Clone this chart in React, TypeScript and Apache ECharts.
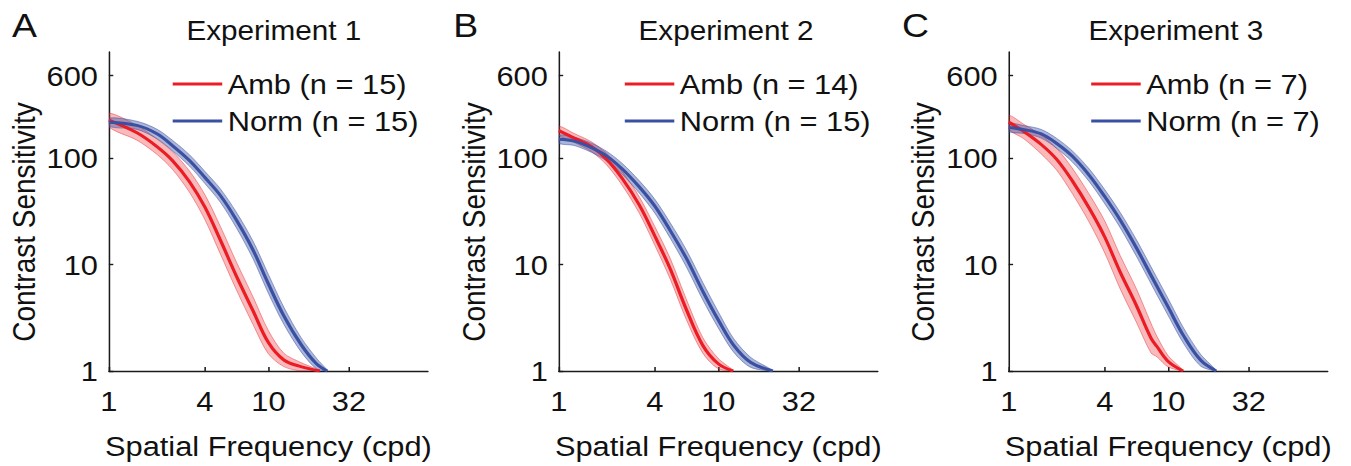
import React, { useEffect, useRef } from "react";
import * as echarts from "echarts";

// ---------- data ----------
const panelLetters = ["A", "B", "C"];
const panelTitles = ["Experiment 1", "Experiment 2", "Experiment 3"];
const ambNames = ["Amb (n = 15)", "Amb (n = 14)", "Amb (n = 7)"];
const normNames = ["Norm (n = 15)", "Norm (n = 15)", "Norm (n = 7)"];

const xTickValues = [1, 4, 10, 32];
const yTickValues = [1, 10, 100, 600];
const xRange = [1, 100];
const yRange = [1, 1000];

const xAxisName = "Spatial Frequency (cpd)";
const yAxisName = "Contrast Sensitivity";

// Panel A
const ambA_f = [1, 1.5, 2, 2.5, 3.2, 4, 5, 6.3, 8, 10, 12.5, 16, 21];
const ambA_mean = [229, 174, 129, 95.5, 60.3, 34.7, 17, 7.8, 3.7, 1.85, 1.27, 1.1, 1.0];
const ambA_lo = [198, 148, 109, 78.9, 47.9, 26.5, 12.6, 5.8, 2.75, 1.45, 1.1, 1.0, 1.0];
const ambA_hi = [265, 204, 152, 116, 76, 45.4, 22.9, 10.6, 5.0, 2.4, 1.47, 1.2, 1.0];

const normA_f = [1, 1.5, 2, 2.5, 3.2, 4, 5, 6.3, 8, 10, 12.5, 16, 20, 23.4];
const normA_mean = [219, 204, 170, 132, 95.5, 66, 44.7, 26.3, 13.8, 6.6, 3.3, 1.78, 1.17, 1.0];
const normA_lo = [200, 187, 153, 118, 84.5, 57.9, 38.6, 22.2, 11.4, 5.38, 2.75, 1.52, 1.05, 1.0];
const normA_hi = [239, 223, 188, 148, 108, 75.3, 51.6, 31.1, 16.7, 8.1, 3.98, 2.07, 1.32, 1.0];

// Panel B
const ambB_f = [1, 1.25, 1.6, 2, 2.5, 3.2, 4, 5, 6.3, 8, 10, 12.4];
const ambB_mean = [182, 155, 129, 97.7, 64.6, 36.3, 18.6, 9.1, 3.8, 1.74, 1.17, 1.0];
const ambB_lo = [166, 141, 116, 86.3, 55.6, 30.4, 15.2, 7.3, 3.05, 1.47, 1.05, 1.0];
const ambB_hi = [200, 171, 143, 111, 75, 43.4, 22.8, 11.4, 4.74, 2.06, 1.31, 1.0];

const normB_f = [1, 1.25, 1.6, 2, 2.5, 3.2, 4, 5, 6.3, 8, 10, 12.5, 16, 22];
const normB_mean = [151, 145, 126, 105, 79.4, 53.7, 35.5, 20.9, 11.5, 5.62, 3.02, 1.74, 1.2, 1.0];
const normB_lo = [139, 132, 114, 94.2, 70.5, 47, 30.5, 17.7, 9.55, 4.66, 2.54, 1.5, 1.08, 1.0];
const normB_hi = [165, 158, 139, 116, 89.5, 61.4, 41.2, 24.7, 13.8, 6.79, 3.6, 2.01, 1.34, 1.0];

// Panel C
const ambC_f = [1, 1.25, 1.6, 2, 2.5, 3.2, 4, 5, 6.3, 7.8, 8.5, 10, 12.4];
const ambC_mean = [219, 178, 135, 97.7, 61.7, 33.9, 18.2, 8.5, 4.17, 2.04, 1.7, 1.23, 1.0];
const ambC_lo = [189, 152, 110, 77.3, 46.9, 25, 12.9, 5.92, 2.9, 1.48, 1.36, 1.09, 1.0];
const ambC_hi = [253, 208, 165, 124, 81.1, 45.9, 25.8, 12.2, 5.98, 2.81, 2.12, 1.39, 1.0];

const normC_f = [1, 1.25, 1.6, 2, 2.5, 3.2, 4, 5, 6.3, 8, 10, 12.5, 16, 20];
const normC_mean = [195, 186, 170, 138, 105, 69.2, 43.7, 26.3, 14.5, 7.41, 3.98, 2.14, 1.26, 1.0];
const normC_lo = [179, 171, 155, 124, 92.7, 60.3, 37.5, 22.3, 12.1, 6.17, 3.32, 1.81, 1.11, 1.0];
const normC_hi = [213, 203, 187, 154, 118, 79.4, 50.8, 31, 17.3, 8.91, 4.78, 2.53, 1.43, 1.0];

const panelsData = [
  { amb: [ambA_f, ambA_mean, ambA_lo, ambA_hi], norm: [normA_f, normA_mean, normA_lo, normA_hi] },
  { amb: [ambB_f, ambB_mean, ambB_lo, ambB_hi], norm: [normB_f, normB_mean, normB_lo, normB_hi] },
  { amb: [ambC_f, ambC_mean, ambC_lo, ambC_hi], norm: [normC_f, normC_mean, normC_lo, normC_hi] },
];

// ---------- layout / style ----------
const STRETCH = 1.1;
const INNER_W = 1228;
const H = 466;
const FONT = "'Liberation Sans', Arial, Helvetica, sans-serif";
const TEXT = "#111111";
const AXIS = "#1a1a1a";
const RED = "#ec1c24";
const BLUE = "#3a50a3";
const RED_FILL = "rgba(236,40,48,0.32)";
const RED_EDGE = "rgba(236,40,48,0.55)";
const BLUE_FILL = "rgba(58,80,163,0.42)";
const BLUE_EDGE = "rgba(58,80,163,0.6)";

const gridLeft = [99, 508, 917];
const gridTop = 52;
const gridW = 290;
const gridH = 319;
const legendLeft = [152, 563, 987];
const letterX = [11, 412, 820];
const titleX = [249, 660, 1069];
const yNameX = [21.5, 430.5, 839.5];

const lg = (v: number) => Math.log10(v);

function bandSeries(i: number, key: string, f: number[], lo: number[], hi: number[], fill: string, edge: string) {
  const data = f.map((x, k) => [lg(x), lg(lo[k]), lg(hi[k])]);
  return {
    type: "custom",
    name: `${key}-${i}-band`,
    xAxisIndex: i,
    yAxisIndex: i,
    silent: true,
    clip: true,
    encode: { x: 0, y: [1, 2] },
    data,
    renderItem: (params: any, api: any) => {
      if (params.dataIndex !== 0) return null;
      const upper = data.map((d) => api.coord([d[0], d[2]]));
      const lowerPts = data.map((d) => api.coord([d[0], d[1]]));
      const n = data.length;
      const lower: number[][] = [];
      for (let k = n - 1; k >= 0; k--) {
        if (k === n - 1 && Math.abs(data[k][1] - data[k][2]) < 1e-9) continue;
        lower.push(lowerPts[k]);
      }
      const cs = params.coordSys;
      return {
        type: "polygon",
        shape: {
          points: upper.concat(lower),
          smooth: 0.3,
          smoothConstraint: [
            [cs.x, cs.y],
            [cs.x + cs.width, cs.y + cs.height],
          ],
        },
        style: { fill, stroke: edge, lineWidth: 0.8 },
      };
    },
  };
}

function meanSeries(i: number, name: string, f: number[], m: number[], color: string) {
  return {
    type: "line",
    name,
    xAxisIndex: i,
    yAxisIndex: i,
    smooth: 0.35,
    symbol: "none",
    showSymbol: false,
    silent: true,
    lineStyle: { width: 3, color },
    itemStyle: { color },
    data: f.map((x, k) => [lg(x), lg(m[k])]),
  };
}

function buildOption() {
  const textStyle = { fontFamily: FONT, fontSize: 28, color: TEXT };
  const grid: any[] = [];
  const xAxis: any[] = [];
  const yAxis: any[] = [];
  const legend: any[] = [];
  const series: any[] = [];
  const graphic: any[] = [];

  panelsData.forEach((p, i) => {
    grid.push({ left: gridLeft[i], top: gridTop, width: gridW, height: gridH, containLabel: false });
    xAxis.push({
      type: "value",
      gridIndex: i,
      min: lg(xRange[0]),
      max: lg(xRange[1]),
      axisLine: { show: true, onZero: false, lineStyle: { color: AXIS, width: 1.4 } },
      axisTick: {
        show: true,
        inside: true,
        length: 4,
        customValues: xTickValues.map(lg),
        lineStyle: { color: AXIS, width: 1.4 },
      },
      axisLabel: {
        show: true,
        customValues: xTickValues.map(lg),
        formatter: (v: number) => String(Math.round(Math.pow(10, v))),
        margin: 16,
        ...textStyle,
      },
      splitLine: { show: false },
      name: xAxisName,
      nameLocation: "middle",
      nameGap: 61,
      nameTextStyle: { ...textStyle },
    });
    yAxis.push({
      type: "value",
      gridIndex: i,
      min: lg(yRange[0]),
      max: lg(yRange[1]),
      axisLine: { show: true, onZero: false, lineStyle: { color: AXIS, width: 1.4 } },
      axisTick: {
        show: true,
        inside: true,
        length: 4,
        customValues: yTickValues.map(lg),
        lineStyle: { color: AXIS, width: 1.4 },
      },
      axisLabel: {
        show: true,
        customValues: yTickValues.map(lg),
        formatter: (v: number) => String(Math.round(Math.pow(10, v))),
        margin: 10,
        ...textStyle,
      },
      splitLine: { show: false },
    });
    legend.push({
      orient: "vertical",
      left: legendLeft[i],
      top: 65,
      itemWidth: 45,
      itemHeight: 3,
      itemGap: 9,
      icon: "rect",
      selectedMode: false,
      textStyle: { ...textStyle },
      data: [ambNames[i], normNames[i]],
    });

    const [af, am, alo, ahi] = p.amb;
    const [nf, nm, nlo, nhi] = p.norm;
    series.push(bandSeries(i, "amb", af, alo, ahi, RED_FILL, RED_EDGE));
    series.push(bandSeries(i, "norm", nf, nlo, nhi, BLUE_FILL, BLUE_EDGE));
    series.push(meanSeries(i, ambNames[i], af, am, RED));
    series.push(meanSeries(i, normNames[i], nf, nm, BLUE));

    graphic.push({
      type: "text",
      x: letterX[i],
      y: 26,
      style: { text: panelLetters[i], font: `34px ${FONT}`, fill: TEXT, textAlign: "left", textVerticalAlign: "middle" },
    });
    graphic.push({
      type: "text",
      x: titleX[i],
      y: 30,
      style: { text: panelTitles[i], font: `27px ${FONT}`, fill: TEXT, textAlign: "center", textVerticalAlign: "middle" },
    });
    graphic.push({
      type: "text",
      x: yNameX[i],
      y: 222,
      rotation: Math.PI / 2,
      style: { text: yAxisName, font: `28px ${FONT}`, fill: TEXT, textAlign: "center", textVerticalAlign: "middle" },
    });
  });

  return {
    animation: false,
    backgroundColor: "#ffffff",
    grid,
    xAxis,
    yAxis,
    legend,
    series,
    graphic,
  };
}

export default function App() {
  const ref = useRef<HTMLDivElement>(null);
  useEffect(() => {
    if (!ref.current) return;
    const chart = echarts.init(ref.current, null, { renderer: "svg" });
    chart.setOption(buildOption() as any);
    return () => chart.dispose();
  }, []);
  return (
    <div
      ref={ref}
      style={{
        position: "absolute",
        left: 0,
        top: 0,
        width: INNER_W,
        height: H,
        transform: `scaleX(${STRETCH})`,
        transformOrigin: "0 0",
      }}
    />
  );
}
